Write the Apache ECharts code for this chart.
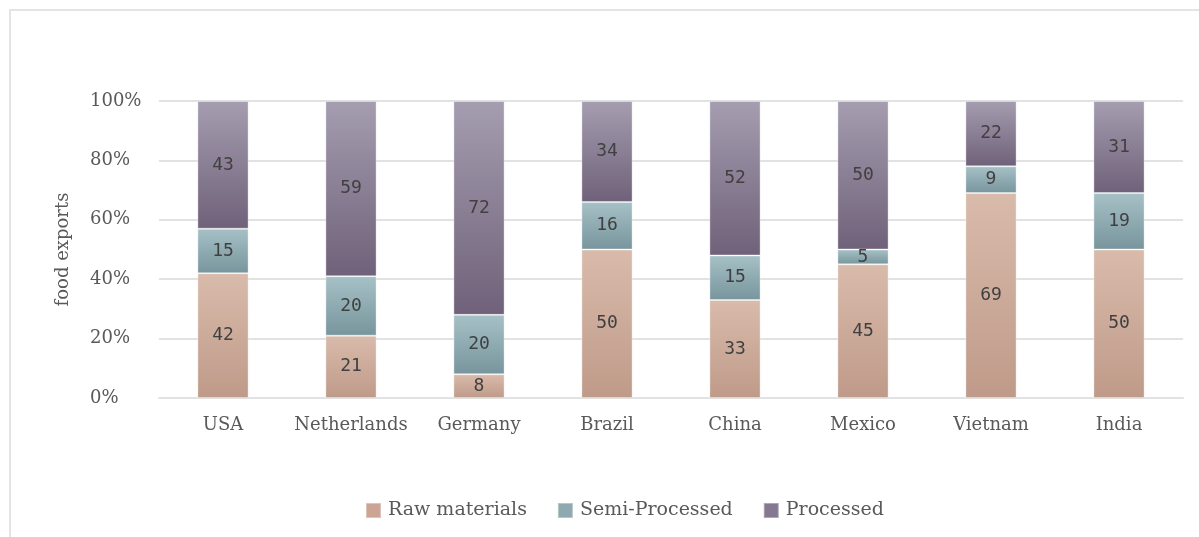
<!DOCTYPE html>
<html><head><meta charset="utf-8">
<script src="https://cdn.jsdelivr.net/npm/echarts@6/dist/echarts.min.js"></script>
<style>html,body{margin:0;padding:0;background:#fff}#c{width:1199px;height:537px}</style>
</head><body><div id="c"></div>
<script>
const categories = ['USA','Netherlands','Germany','Brazil','China','Mexico','Vietnam','India'];
const rawMaterials = [42,21,8,50,33,45,69,50];
const semiProcessed = [15,20,20,16,15,5,9,19];
const processed = [43,59,72,34,52,50,22,31];
const seriesNames = ['Raw materials','Semi-Processed','Processed'];

const serif = '"DejaVu Serif", "Liberation Serif", serif';
const mono = '"DejaVu Sans Mono", "Liberation Mono", monospace';

function grad(top, bottom){
  return new echarts.graphic.LinearGradient(0,0,0,1,[{offset:0,color:top},{offset:1,color:bottom}]);
}
const styles = [
  {top:'#d9bbab', bottom:'#bf9a89', legend:'#cba494'},
  {top:'#a6c1c6', bottom:'#78959d', legend:'#8eaab0'},
  {top:'#a59db0', bottom:'#6f6179', legend:'#857891'}
];
const dataSets = [rawMaterials, semiProcessed, processed];

const chart = echarts.init(document.getElementById('c'));
chart.setOption({
  animation:false,
  graphic:[{type:'rect', shape:{x:10,y:10,width:1200,height:540}, style:{fill:'none', stroke:'#e4e4e4', lineWidth:2}, silent:true}],
  legend:{
    top:496, left:360, itemWidth:15, itemHeight:15, itemGap:30,
    icon:'rect',
    textStyle:{fontFamily:serif, fontSize:19, color:'#595959', padding:[0,0,0,2]},
    data: seriesNames.map((n,i)=>({name:n, itemStyle:{color:styles[i].legend}}))
  },
  grid:{left:159, right:16, top:101, bottom:139, containLabel:false},
  xAxis:{
    type:'category', data:categories,
    axisLine:{show:true, lineStyle:{color:'#e2e2e2', width:2}},
    axisTick:{show:false},
    axisLabel:{interval:0, fontFamily:serif, fontSize:18, color:'#595959', margin:18}
  },
  yAxis:{
    type:'value', min:0, max:100, interval:20,
    name:'food exports', nameLocation:'middle', nameGap:87, nameRotate:90,
    nameTextStyle:{fontFamily:serif, fontSize:18, color:'#595959'},
    axisLine:{show:false}, axisTick:{show:false},
    axisLabel:{formatter:'{value}%', fontFamily:serif, fontSize:18, color:'#595959', margin:69, align:'left'},
    splitLine:{lineStyle:{color:'#e2e2e2', width:2}}
  },
  series: dataSets.map((d,i)=>({
    name:seriesNames[i], type:'bar', stack:'total', barWidth:'40%', data:d,
    itemStyle:{color:grad(styles[i].top, styles[i].bottom), borderColor:'rgba(255,255,255,0.35)', borderWidth:1},
    label:{show:true, position:'inside', fontFamily:mono, fontSize:18, color:'#404040'}
  }))
});
</script></body></html>
